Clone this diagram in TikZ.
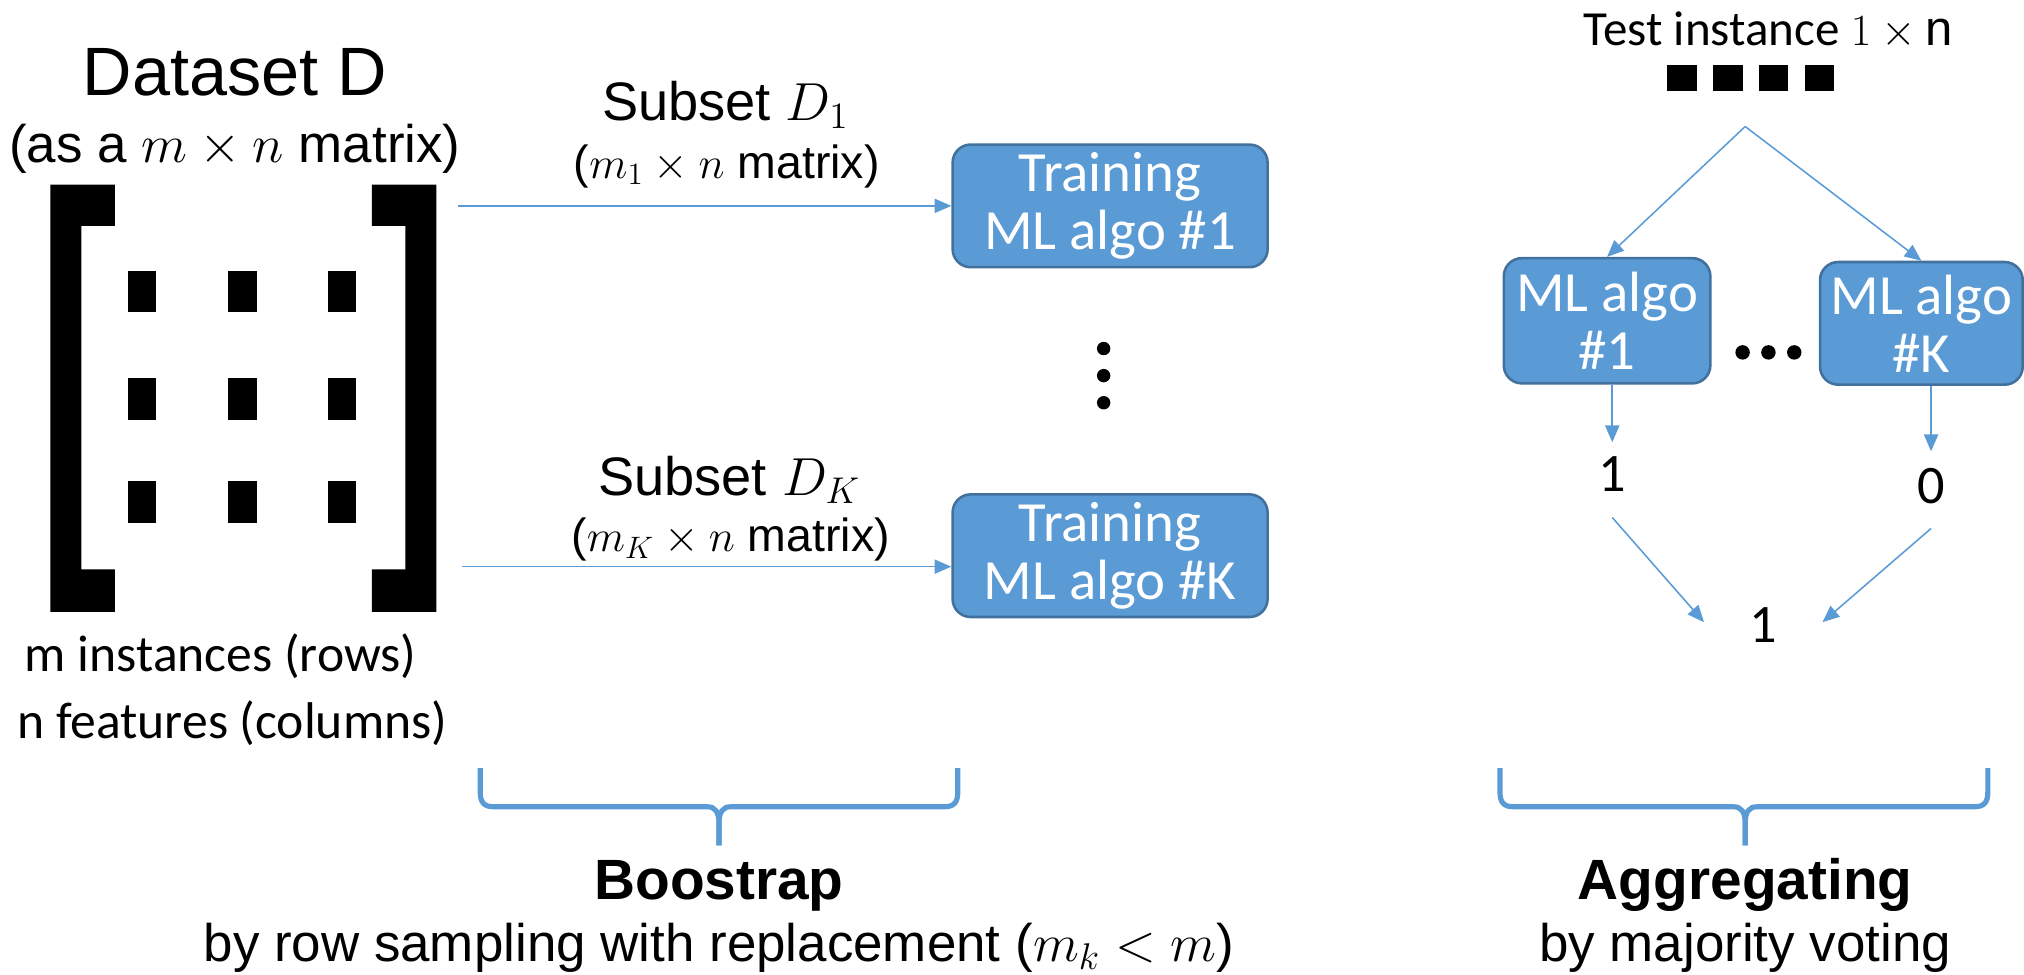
\documentclass[tikz,border=0pt]{standalone}
\usepackage{fontspec}
\setmainfont{Liberation Sans}
\newfontfamily\calibri{Carlito}
\usetikzlibrary{arrows.meta}
\definecolor{officeblue}{HTML}{5B9BD5}
\definecolor{officeedge}{HTML}{41719C}

% curly brace opening upwards: left x, right x, middle x
\newcommand\curlybrace[3]{%
  \draw[brace] (#1,595) -- (#1,613) .. controls (#1,622) and ({#1+3},625) .. ({#1+11},625)
    -- ({#3-9},625) .. controls ({#3-3},625) and (#3,629) .. (#3,638) -- (#3,655);
  \draw[brace] (#2,595) -- (#2,613) .. controls (#2,622) and ({#2-3},625) .. ({#2-11},625)
    -- ({#3+9},625) .. controls ({#3+3},625) and (#3,629) .. (#3,638) -- (#3,655);}

\begin{document}
\begin{tikzpicture}[x=0.5pt,y=-0.5pt,
  algobox/.style={draw=officeedge, line width=1pt, fill=officeblue, rounded corners=7pt,
    text=white, font=\calibri\fontsize{22}{22.5}\selectfont, align=center, inner sep=0pt},
  link/.style={draw=officeblue, line width=0.6pt, -{Triangle[length=6.5pt,width=5.5pt]}},
  brace/.style={draw=officeblue, line width=2pt},
  valnode/.style={anchor=base, inner sep=0pt, font=\calibri\fontsize{21}{24}\selectfont},
  caption/.style={anchor=base, inner sep=1pt, font=\fontsize{20.5}{24}\selectfont},
  heading/.style={anchor=base, inner sep=1pt, font=\bfseries\fontsize{22}{26}\selectfont},
  subsetlbl/.style={anchor=base, inner sep=1pt, font=\fontsize{21}{24}\selectfont},
  dimlbl/.style={anchor=base, inner sep=1pt, font=\fontsize{18}{22}\selectfont},
  label/.style={anchor=base, inner sep=1pt, font=\calibri\fontsize{20}{24}\selectfont}]
\useasboundingbox (0,0) rectangle (1568,755);

% ---------- dataset matrix ----------
\node[anchor=base, inner sep=1pt, font=\fontsize{26.5}{30}\selectfont] (title) at (182,74) {Dataset D};
\node[caption] (shape) at (182,126) {(as a $m\times n$ matrix)};

\fill (39,143) -- (89,143) -- (89,175) -- (63,175) -- (63,441) -- (89,441)
      -- (89,474) -- (39,474) -- cycle;
\fill (338,143) -- (288,143) -- (288,175) -- (314,175) -- (314,441) -- (288,441)
      -- (288,474) -- (338,474) -- cycle;
\foreach \cx in {110,188,265}
  \foreach \cy in {226,309,389}
    \fill (\cx-11,\cy-16) rectangle (\cx+11,\cy+16);

\node[label] (rows) at (171,520) {m instances (rows)};
\node[label] (cols) at (180,572) {n features (columns)};

% ---------- bootstrap subsets ----------
\node[subsetlbl] (sub1) at (562,93) {Subset $D_1$};
\node[dimlbl] (dim1) at (563,138) {($m_1\times n$ matrix)};
\node[subsetlbl] (subK) at (565,383.5) {Subset $D_K$};
\node[dimlbl] (dimK) at (566,427.5) {($m_K\times n$ matrix)};

\node[algobox, minimum width=122pt, minimum height=47.5pt] (train1) at (860,159.5) {Training\\ML algo \#1};
\node[algobox, minimum width=122pt, minimum height=47.5pt] (trainK) at (860,430.5) {Training\\ML algo \#K};

\coordinate (src1) at (355,159.5);
\coordinate (srcK) at (358,439);
\draw[link] (src1) -- (train1.west);
\draw[link] (srcK) -- (trainK.west |- srcK);

\foreach \dy in {270,291,312}
  \fill (855,\dy) circle[radius=2.6pt];

\curlybrace{372}{742}{557}
\node[heading] (boot) at (557,697) {Boostrap};
\node[caption] (bootnote) at (557,745) {by row sampling with replacement ($m_k<m$)};

% ---------- aggregation ----------
\node[label, font=\calibri\fontsize{19}{22}\selectfont] (test) at (1370,35) {Test instance $1\times\mathrm{n}$};
\foreach \sx in {1291.5,1327,1362.5,1398}
  \fill (\sx,50) rectangle (\sx+23,70.5);
\coordinate (split) at (1352,98);

\node[algobox, minimum width=80pt, minimum height=48.5pt] (alg1) at (1245,248.5) {ML algo\\\#1};
\node[algobox, minimum width=78.5pt, minimum height=47.5pt] (algK) at (1488.5,250.5) {ML algo\\\#K};
\draw[link] (split) -- (alg1.north);
\draw[link] (split) -- (algK.north);
\foreach \dx in {1350,1370,1390}
  \fill (\dx,273) circle[radius=2.8pt];

\node[valnode, text height=19pt, text depth=9.75pt] (v1) at (1249,381) {1};
\node[valnode, text height=20pt, text depth=9.5pt] (vK) at (1496,390) {0};
\node[valnode, text height=15.5pt, text depth=0pt, minimum width=45.5pt] (vote) at (1366,497.5) {1};
\draw[link] (alg1.south -| v1.north) -- (v1.north);
\draw[link] (algK.south -| vK.north) -- (vK.north);
\draw[link] (v1.south) -- (vote.west);
\draw[link] (vK.south) -- (vote.east);

\curlybrace{1162}{1540}{1352}
\node[heading] (agg) at (1352,697) {Aggregating};
\node[caption] (aggnote) at (1352,745) {by majority voting};
\end{tikzpicture}
\end{document}
